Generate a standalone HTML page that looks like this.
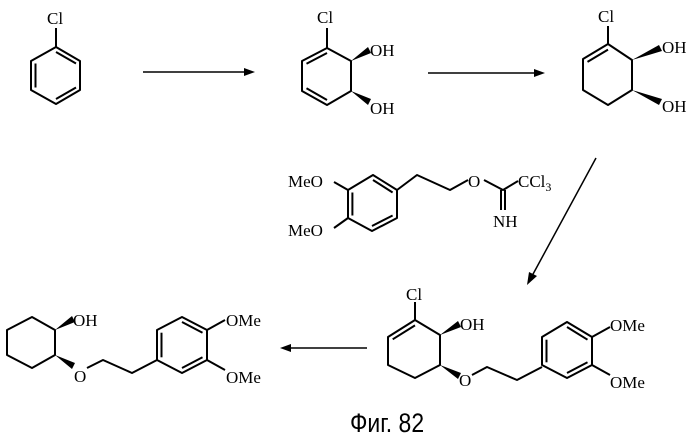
<!DOCTYPE html>
<html><head><meta charset="utf-8"><style>
html,body{margin:0;padding:0;background:#fff;}
svg{display:block;}
text{font-family:"Liberation Serif",serif;font-size:17px;fill:#000;}
</style></head><body>
<svg width="699" height="443" viewBox="0 0 699 443" xmlns="http://www.w3.org/2000/svg">
<g stroke="#000" stroke-width="2" fill="none" stroke-linejoin="round">
<polygon points="56,47 80,61 80,90 56,104 31,90 31,61"/>
<line x1="56" y1="28" x2="56" y2="47"/>
<line x1="56" y1="52" x2="76" y2="63.5"/>
<line x1="35.5" y1="63.5" x2="35.5" y2="87.5"/>
<line x1="76" y1="87.5" x2="56" y2="99"/>
<line x1="143" y1="72" x2="248" y2="72" stroke-width="1.5"/>
<polygon points="327,48 351,61 351,91 327,105 302,91 302,61"/>
<line x1="327" y1="28" x2="327" y2="48"/>
<line x1="327" y1="53" x2="306.5" y2="63.7"/>
<line x1="306.5" y1="88.3" x2="327" y2="100"/>
<line x1="428" y1="73" x2="538" y2="73" stroke-width="1.5"/>
<polygon points="608,44 632,60 632,90 608,105 583,90 583,59"/>
<line x1="608" y1="26" x2="608" y2="44"/>
<line x1="608" y1="49.6" x2="587.5" y2="61.9"/>
<line x1="596" y1="158" x2="532" y2="276" stroke-width="1.5"/>
<polygon points="373,175 397,190 397,218 372,231 348,218 348,190"/>
<line x1="352.4" y1="192.5" x2="352.4" y2="215.5"/>
<line x1="372" y1="226" x2="392.6" y2="215.5"/>
<line x1="373" y1="180" x2="392.6" y2="192.5"/>
<line x1="348" y1="190" x2="334" y2="182"/>
<line x1="348" y1="218" x2="334" y2="228"/>
<polyline points="397,190 417,175 450,190 468,180"/>
<polyline points="484,180 503,190 518,181"/>
<line x1="501" y1="190" x2="501" y2="210"/>
<line x1="505" y1="190" x2="505" y2="210"/>
<line x1="288" y1="348" x2="367" y2="348" stroke-width="1.5"/>
<polygon points="32,317 55,330 55,355 32,368 7,355 7,330"/>
<polyline points="87,368 103,360 132,373 157,360"/>
<polygon points="157,330 182,317 207,330 207,360 182,373 157,360"/>
<line x1="182" y1="322" x2="202.5" y2="332.7"/>
<line x1="161.5" y1="332.7" x2="161.5" y2="357.3"/>
<line x1="202.5" y1="357.3" x2="182" y2="368"/>
<line x1="207" y1="330" x2="225" y2="320"/>
<line x1="207" y1="360" x2="225" y2="370"/>
<polygon points="415,320 440,335 440,365 415,378 388,365 388,337"/>
<line x1="415" y1="302" x2="415" y2="320"/>
<line x1="415" y1="325.4" x2="392.7" y2="339.3"/>
<polyline points="472,375 487,367 517,380 542,367"/>
<polygon points="542,337 567,322 592,337 592,365 567,378 542,365"/>
<line x1="567" y1="327" x2="587.5" y2="339.7"/>
<line x1="546.5" y1="339.7" x2="546.5" y2="362.3"/>
<line x1="587.5" y1="362.3" x2="567" y2="373"/>
<line x1="592" y1="337" x2="610" y2="327"/>
<line x1="592" y1="365" x2="610" y2="375"/>
</g>
<g fill="#000">
<polygon points="255,72 244,68 244,76"/>
<polygon points="545,73 534,69 534,77"/>
<polygon points="527,285 529,272 537,276"/>
<polygon points="280,348 291,344 291,352"/>
<polygon points="351,61 368,47 371,53"/>
<polygon points="351,91 368,105 371,99"/>
<polygon points="632,60 659,45 662,51"/>
<polygon points="632,90 659,105 662,99"/>
<polygon points="55,330 72,316 75,322"/>
<polygon points="55,355 72,369 75,363"/>
<polygon points="440,335 458,321 461,327"/>
<polygon points="440,365 458,379 461,373"/>
</g>
<text x="47" y="24">Cl</text>
<text x="317" y="23">Cl</text>
<text x="370" y="56">OH</text>
<text x="370" y="114">OH</text>
<text x="598" y="22">Cl</text>
<text x="662" y="53">OH</text>
<text x="662" y="112">OH</text>
<text x="288" y="187">MeO</text>
<text x="288" y="236">MeO</text>
<text x="468" y="187">O</text>
<text x="518" y="187">CCl<tspan font-size="12" dy="4">3</tspan></text>
<text x="493" y="227">NH</text>
<text x="73" y="326">OH</text>
<text x="74" y="382">O</text>
<text x="226" y="326">OMe</text>
<text x="226" y="383">OMe</text>
<text x="406" y="300">Cl</text>
<text x="460" y="330">OH</text>
<text x="459" y="386">O</text>
<text x="610" y="331">OMe</text>
<text x="610" y="388">OMe</text>
<text x="350" y="432" style="font-family:'Liberation Sans',sans-serif;font-size:27px" transform="translate(350,0) scale(0.85,1) translate(-350,0)">Фиг. 82</text>
</svg>
</body></html>
